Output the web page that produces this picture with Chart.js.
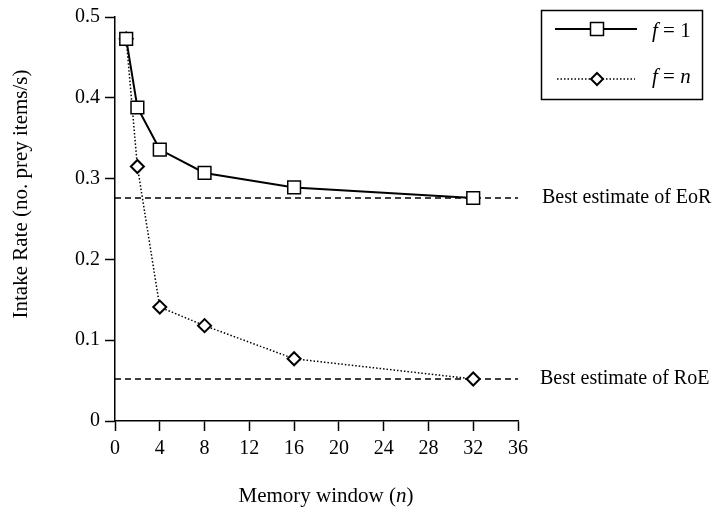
<!DOCTYPE html>
<html>
<head>
<meta charset="utf-8">
<script src="https://cdn.jsdelivr.net/npm/chart.js@4.4.1/dist/chart.umd.min.js"></script>
<style>
body { margin: 0; background: #fff; }
#wrap { width: 723px; height: 511px; position: relative; }
</style>
</head>
<body>
<div id="wrap"><canvas id="chart"></canvas></div>
<script>
// memory window n and intake rates
const windows = [1, 2, 4, 8, 16, 32];
const rateF1 = [0.473, 0.388, 0.336, 0.307, 0.289, 0.276];
const rateFn = [0.473, 0.315, 0.141, 0.118, 0.077, 0.052];
const eorEstimate = 0.276;
const roeEstimate = 0.052;
const refSpan = [0, 36];
const xTicks = [0, 4, 8, 12, 16, 20, 24, 28, 32, 36];
const yTicks = [0, 0.1, 0.2, 0.3, 0.4, 0.5];

const serif = '"Liberation Serif", "Times New Roman", serif';
const pts = (xs, ys) => xs.map((x, i) => ({ x: x, y: ys[i] }));
const flat = (v) => refSpan.map(x => ({ x: x, y: v }));

const refLine = {
  borderColor: '#000', borderWidth: 1.3, borderDash: [6, 4],
  pointRadius: 0, showLine: true, order: 3
};

// draw a run of [text, italic] pieces starting at x
function runs(ctx, parts, x, y, size) {
  parts.forEach(p => {
    ctx.font = (p[1] ? 'italic ' : '') + size + 'px ' + serif;
    ctx.fillText(p[0], x, y);
    x += ctx.measureText(p[0]).width;
  });
}
function runsWidth(ctx, parts, size) {
  let w = 0;
  parts.forEach(p => {
    ctx.font = (p[1] ? 'italic ' : '') + size + 'px ' + serif;
    w += ctx.measureText(p[0]).width;
  });
  return w;
}

const extras = {
  id: 'extras',
  afterDraw(chart) {
    const ctx = chart.ctx;
    const ys = chart.scales.y;
    ctx.save();
    ctx.fillStyle = '#000';
    ctx.textBaseline = 'middle';
    ctx.font = '20px ' + serif;
    ctx.fillText('Best estimate of EoR', 542, ys.getPixelForValue(eorEstimate));
    ctx.fillText('Best estimate of RoE', 540, ys.getPixelForValue(roeEstimate));

    // axis titles
    ctx.textBaseline = 'alphabetic';
    const xt = [['Memory window (', false], ['n', true], [')', false]];
    runs(ctx, xt, 326 - runsWidth(ctx, xt, 21) / 2, 502, 21);
    ctx.save();
    ctx.translate(27, 194);
    ctx.rotate(-Math.PI / 2);
    ctx.textAlign = 'center';
    ctx.font = '21px ' + serif;
    ctx.fillText('Intake Rate (no. prey items/s)', 0, 0);
    ctx.restore();

    // legend box
    ctx.strokeStyle = '#000';
    ctx.lineWidth = 1.5;
    ctx.strokeRect(541.5, 10.5, 161, 89);

    // row 1: solid with square
    ctx.lineWidth = 2;
    ctx.beginPath(); ctx.moveTo(555, 29); ctx.lineTo(637, 29); ctx.stroke();
    ctx.fillStyle = '#fff';
    ctx.lineWidth = 1.5;
    ctx.fillRect(590.5, 22.5, 13, 13); ctx.strokeRect(590.5, 22.5, 13, 13);

    // row 2: dotted with diamond
    ctx.setLineDash([1.5, 2]);
    ctx.beginPath(); ctx.moveTo(557, 79); ctx.lineTo(635, 79); ctx.stroke();
    ctx.setLineDash([]);
    ctx.beginPath();
    ctx.moveTo(597, 73); ctx.lineTo(603, 79); ctx.lineTo(597, 85); ctx.lineTo(591, 79); ctx.closePath();
    ctx.fill(); ctx.lineWidth = 2; ctx.stroke();

    ctx.fillStyle = '#000';
    ctx.textBaseline = 'middle';
    runs(ctx, [['f', true], [' = 1', false]], 652, 31, 21);
    runs(ctx, [['f', true], [' = ', false], ['n', true]], 652, 77, 21);
    ctx.restore();
  }
};

new Chart(document.getElementById('chart'), {
  type: 'scatter',
  data: {
    datasets: [
      {
        label: 'f = 1', data: pts(windows, rateF1), showLine: true,
        borderColor: '#000', borderWidth: 2,
        pointStyle: 'rect', pointRadius: 9, pointBorderWidth: 1.5,
        pointBackgroundColor: '#fff', pointBorderColor: '#000', order: 1
      },
      {
        label: 'f = n', data: pts(windows, rateFn), showLine: true,
        borderColor: '#000', borderWidth: 1.5, borderDash: [1.5, 2],
        pointStyle: 'rectRot', pointRadius: 6.5, pointBorderWidth: 2,
        pointBackgroundColor: '#fff', pointBorderColor: '#000', order: 2
      },
      Object.assign({ label: 'EoR', data: flat(eorEstimate) }, refLine),
      Object.assign({ label: 'RoE', data: flat(roeEstimate) }, refLine)
    ]
  },
  options: {
    responsive: true,
    maintainAspectRatio: false,
    animation: false,
    layout: { padding: { top: 16, right: 205, left: 0, bottom: 0 } },
    plugins: { legend: { display: false }, tooltip: { enabled: false } },
    scales: {
      x: {
        type: 'linear', min: 0, max: 36,
        afterBuildTicks: (s) => { s.ticks = xTicks.map(v => ({ value: v })); },
        afterFit: (s) => { s.height = 90; },
        grid: { drawOnChartArea: false, tickLength: 10, color: '#000', tickWidth: 1.5 },
        border: { color: '#000', width: 1.5 },
        ticks: { color: '#000', padding: 6, font: { family: serif, size: 20 }, maxRotation: 0 }
      },
      y: {
        min: 0, max: 0.5,
        afterBuildTicks: (s) => { s.ticks = yTicks.map(v => ({ value: v })); },
        afterFit: (s) => { s.width = 115; },
        grid: { drawOnChartArea: false, tickLength: 10, color: '#000', tickWidth: 1.5 },
        border: { color: '#000', width: 1.5 },
        ticks: { color: '#000', padding: 5, font: { family: serif, size: 20 } }
      }
    }
  },
  plugins: [extras]
});
</script>
</body>
</html>
